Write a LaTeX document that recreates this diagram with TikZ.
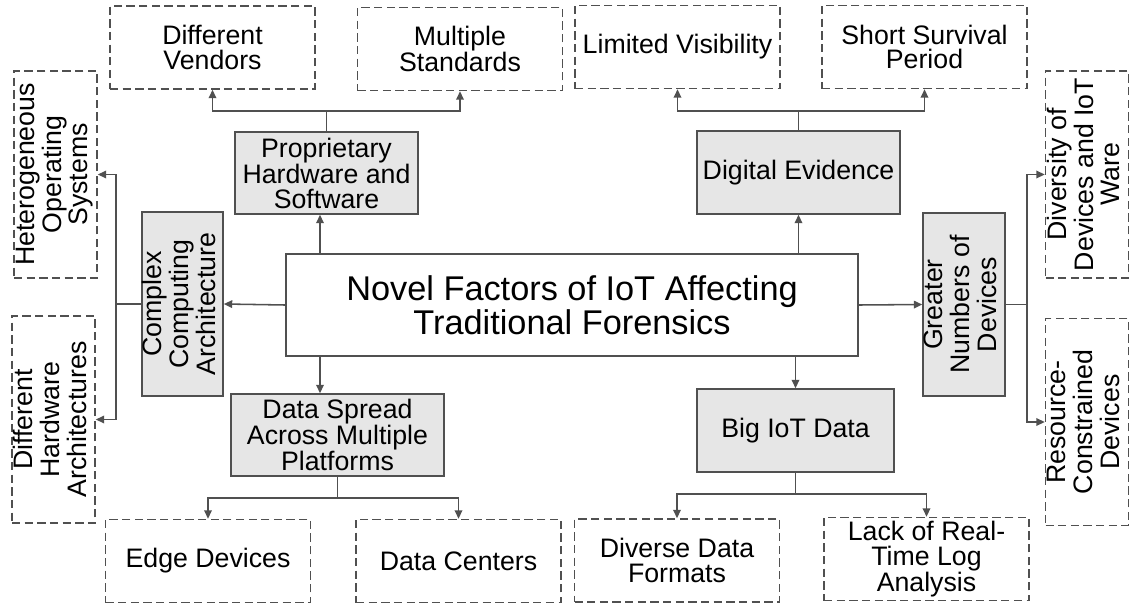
\documentclass[tikz,border=0pt]{standalone}
\usepackage{fontspec}
\setmainfont{Liberation Sans}
\usetikzlibrary{arrows.meta}

\newdimen\pxu
\pxu=0.025cm
\definecolor{linegray}{HTML}{505050}
\definecolor{boxfill}{HTML}{E6E6E6}
\newcommand{\vlabel}[1]{\rotatebox{90}{\begin{tabular}{@{}c@{}}#1\end{tabular}}}

\begin{document}
\begin{tikzpicture}[
      x=0.025cm, y=-0.025cm,
      box_main/.style={draw=linegray, line width=1.1pt, inner sep=0pt, align=center,
        minimum width=572\pxu, minimum height=102\pxu, font=\fontsize{24.4}{24.4}\selectfont},
      box_factor/.style={draw=linegray, fill=boxfill, line width=1.1pt, inner sep=0pt,
        align=center, font=\fontsize{19}{17.6}\selectfont},
      box_issue/.style={draw=linegray, dash pattern=on 5.9pt off 3.1pt, line width=1.1pt,
        inner sep=0pt, align=center, minimum width=205\pxu, minimum height=83\pxu,
        font=\fontsize{19}{17.6}\selectfont},
      box_side/.style={box_issue, minimum width=83\pxu, minimum height=207\pxu},
      edge_arrow/.style={draw=linegray, line width=1.1pt, -{Triangle[length=6pt, width=5.4pt]}}
    ]
      \useasboundingbox (0,0) rectangle (1129,605);

      % centre
      \node[box_main] (main) at (572,305) {Novel Factors of IoT Affecting\\Traditional Forensics};

      % factors
      \node[box_factor, minimum width=183\pxu, minimum height=82\pxu] (prop) at (326.5,173) {Proprietary\\Hardware and\\Software};
      \node[box_factor, minimum width=203\pxu, minimum height=83\pxu] (evid) at (798.5,172.5) {Digital Evidence};
      \node[box_factor, minimum width=81\pxu, minimum height=184\pxu] (arch) at (182.5,304) {\vlabel{Complex\\Computing\\Architecture}};
      \node[box_factor, minimum width=82\pxu, minimum height=183\pxu] (devices) at (964,304.5) {\vlabel{Greater\\Numbers of\\Devices}};
      \node[box_factor, minimum width=213\pxu, minimum height=82\pxu] (spread) at (337.5,435) {Data Spread\\Across Multiple\\Platforms};
      \node[box_factor, minimum width=197\pxu, minimum height=83\pxu] (bigdata) at (795.5,430.5) {Big IoT Data};

      % issues
      \node[box_issue] (vendors) at (212.5,47.5) {Different\\Vendors};
      \node[box_issue] (standards) at (460,49) {Multiple\\Standards};
      \node[box_issue] (visib) at (677.5,47) {Limited Visibility};
      \node[box_issue] (survival) at (924.5,47) {Short Survival\\Period};
      \node[box_side] (hetero) at (55.5,174.5) {\vlabel{Heterogeneous\\Operating\\Systems}};
      \node[box_side] (hwarch) at (53.5,419.5) {\vlabel{Different\\Hardware\\Architectures}};
      \node[box_side] (diversity) at (1087,174.5) {\vlabel{Diversity of\\Devices and IoT\\Ware}};
      \node[box_side] (constr) at (1087,422) {\vlabel{Resource-\\Constrained\\Devices}};
      \node[box_issue] (edge) at (208,561) {Edge Devices};
      \node[box_issue] (centers) at (458.5,561) {Data Centers};
      \node[box_issue] (formats) at (677,560.5) {Diverse Data\\Formats};
      \node[box_issue] (logs) at (926.5,559) {Lack of Real-\\Time Log\\Analysis};

      \coordinate (lft) at (320,0);

      % centre to factors
      \draw[edge_arrow] (main.north -| lft) -- (prop.south -| lft);
      \draw[edge_arrow] (main.south -| lft) -- (spread.north -| lft);
      \draw[edge_arrow] (main.north -| evid.south) -- (evid.south);
      \draw[edge_arrow] (main.south -| bigdata.north) -- (bigdata.north);
      \draw[edge_arrow] (main.west) -- (arch.east);
      \draw[edge_arrow] (main.east) -- (devices.west);

      % factors to issues
      \draw[edge_arrow] (prop.north) -- ++(0,-20) -| (vendors.south);
      \draw[edge_arrow] (prop.north) -- ++(0,-20) -| (standards.south);
      \draw[edge_arrow] (evid.north) -- ++(0,-19) -| (visib.south);
      \draw[edge_arrow] (evid.north) -- ++(0,-19) -| (survival.south);
      \draw[edge_arrow] (arch.west) -- ++(-25,0) |- (hetero.east);
      \draw[edge_arrow] (arch.west) -- ++(-25,0) |- (hwarch.east);
      \draw[edge_arrow] (devices.east) -- ++(21,0) |- (diversity.west);
      \draw[edge_arrow] (devices.east) -- ++(21,0) |- (constr.west);
      \draw[edge_arrow] (spread.south) -- ++(0,21) -| (edge.north);
      \draw[edge_arrow] (spread.south) -- ++(0,21) -| (centers.north);
      \draw[edge_arrow] (bigdata.south) -- ++(0,21) -| (formats.north);
      \draw[edge_arrow] (bigdata.south) -- ++(0,21) -| (logs.north);
    \end{tikzpicture}
\end{document}
